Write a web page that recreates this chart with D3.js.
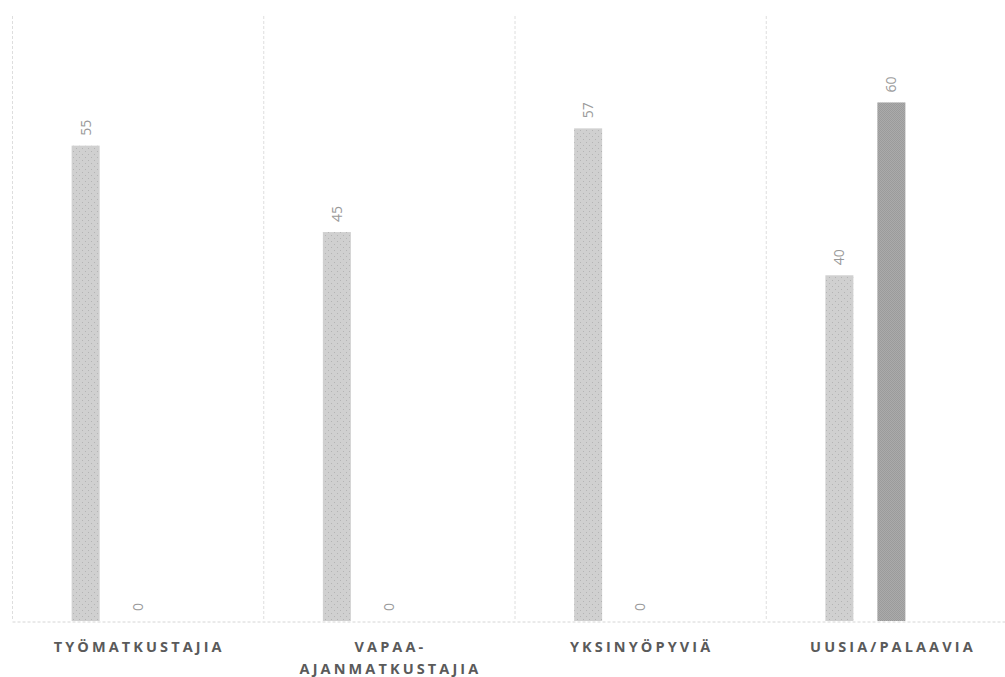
<!DOCTYPE html>
<html>
<head>
<meta charset="utf-8">
<script src="https://cdn.jsdelivr.net/npm/d3@7"></script>
<style>
  html, body { margin: 0; padding: 0; background: #fff; }
  svg { display: block; }
</style>
</head>
<body>
<svg id="chart" width="1005" height="677"></svg>
<script>
// ---- data ----
const categories = [["TYÖMATKUSTAJIA"], ["VAPAA-", "AJANMATKUSTAJIA"], ["YKSINYÖPYVIÄ"], ["UUSIA/PALAAVIA"]];
const seriesA = [55, 45, 57, 40];
const seriesB = [0, 0, 0, 60];
const seriesKeys = ["A", "B"];
const yMax = 70;

// ---- layout ----
(function () {
const svg = d3.select("#chart");
const plotLeft = 12, plotRight = 1017, plotTop = 16, baseline = 621;
const catKeys = categories.map((c, i) => i);

const x = d3.scaleBand().domain(catKeys).range([plotLeft, plotRight]).padding(0);
const xSub = d3.scaleBand().domain([0, 1, 2])
  .range([x.bandwidth() / 2 - 78, x.bandwidth() / 2 + 78])
  .paddingInner(0.4615).paddingOuter(0.2308);
const y = d3.scaleLinear().domain([0, yMax]).range([baseline, plotTop]);

const defs = svg.append("defs");
// dotted light pattern
const pA = defs.append("pattern").attr("id", "patA").attr("patternUnits", "userSpaceOnUse")
  .attr("width", 6).attr("height", 6);
pA.append("rect").attr("width", 6).attr("height", 6).attr("fill", "#d0d0d0");
pA.append("rect").attr("x", 1).attr("y", 1).attr("width", 1).attr("height", 1).attr("fill", "#b4b4b4");
pA.append("rect").attr("x", 4).attr("y", 4).attr("width", 1).attr("height", 1).attr("fill", "#b4b4b4");
// dark crosshatch pattern
const pB = defs.append("pattern").attr("id", "patB").attr("patternUnits", "userSpaceOnUse")
  .attr("width", 2).attr("height", 2);
pB.append("rect").attr("width", 2).attr("height", 2).attr("fill", "#ababab");
pB.append("rect").attr("x", 0).attr("y", 0).attr("width", 1).attr("height", 1).attr("fill", "#9b9b9b");
pB.append("rect").attr("x", 1).attr("y", 1).attr("width", 1).attr("height", 1).attr("fill", "#9b9b9b");

// vertical gridlines at category boundaries
const bounds = catKeys.map(k => x(k)).concat([plotRight]);
svg.append("g").selectAll("line").data(bounds).join("line")
  .attr("x1", d => d + 0.5).attr("x2", d => d + 0.5)
  .attr("y1", plotTop).attr("y2", baseline)
  .attr("stroke", "#dedede").attr("stroke-width", 1)
  .attr("stroke-dasharray", "3,2");

// baseline axis
const xAxis = d3.axisBottom(x).tickSize(0).tickFormat("");
const axisG = svg.append("g").attr("transform", `translate(0,${baseline + 0.5})`).call(xAxis);
axisG.select(".domain").attr("stroke", "#d6d6d6").attr("stroke-dasharray", "3,2");

// bars
const series = [seriesA, seriesB];
const fills = ["url(#patA)", "url(#patB)"];
series.forEach((vals, si) => {
  const g = svg.append("g");
  g.selectAll("rect").data(vals).join("rect")
    .attr("x", (d, i) => x(i) + xSub(si))
    .attr("y", d => y(d))
    .attr("width", xSub.bandwidth())
    .attr("height", d => baseline - y(d))
    .attr("fill", fills[si]);
  g.selectAll("text").data(vals).join("text")
    .attr("transform", (d, i) => `translate(${x(i) + xSub(si) + xSub.bandwidth() / 2 + 5},${y(d) - 10}) rotate(-90)`)
    .attr("text-anchor", "start")
    .attr("font-family", "'Open Sans', sans-serif")
    .attr("font-size", 14)
    .attr("fill", "#9a9a9a")
    .text(d => d);
});

// category labels
const ls = 3.1;
const lab = svg.append("g");
categories.forEach((lines, i) => {
  const cx = x(i) + x.bandwidth() / 2 + ls / 2;
  const t = lab.append("text")
    .attr("x", cx)
    .attr("y", 652)
    .attr("text-anchor", "middle")
    .attr("font-family", "'Open Sans', sans-serif")
    .attr("font-weight", "bold")
    .attr("font-size", 14.5)
    .attr("letter-spacing", ls + "px")
    .attr("fill", "#5a5a5a");
  lines.forEach((ln, j) => {
    t.append("tspan").attr("x", cx).attr("dy", j === 0 ? 0 : 22).text(ln);
  });
});
})();
</script>
</body>
</html>
